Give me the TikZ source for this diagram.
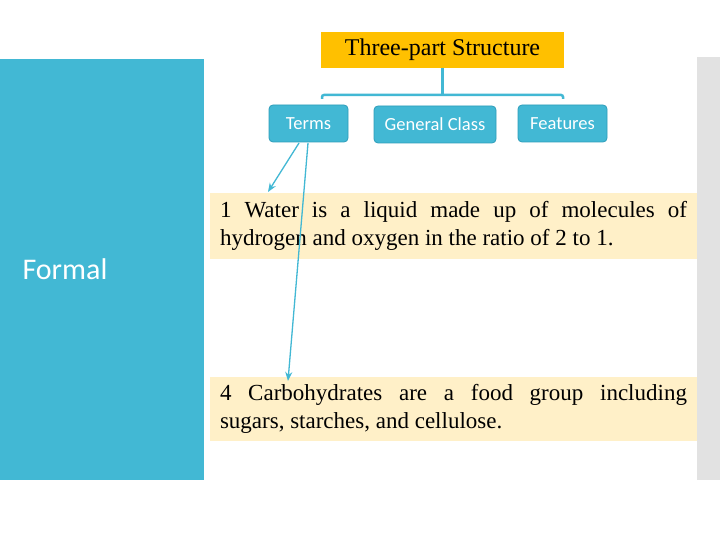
\documentclass[tikz,border=0pt]{standalone}
\usepackage{fontspec}
\setmainfont{Liberation Serif}
\newfontfamily\calib{Carlito}
\usetikzlibrary{arrows.meta}
\definecolor{teal1}{HTML}{42B8D4}
\definecolor{tealdk}{HTML}{2E9DBA}
\definecolor{gold}{HTML}{FFC000}
\definecolor{beige}{HTML}{FFF0C8}
\definecolor{grayst}{HTML}{E2E2E2}
\tikzset{
  catbox/.style={draw=tealdk, line width=0.8pt, fill=teal1, rounded corners=4pt, text=white, font=\calib\fontsize{18.5}{22}\selectfont, inner sep=0pt},
  textbox/.style={fill=beige, inner sep=0pt, minimum width=487pt, align=justify, font=\fontsize{23}{28}\selectfont},
  conn/.style={draw=teal1, line width=2.5pt},
  arr/.style={draw=teal1, line width=1.3pt, -{Stealth[length=9pt,width=7pt]}}
}
\begin{document}
\begin{tikzpicture}[x=1pt,y=-1pt]
\useasboundingbox (0,0) rectangle (720,540);
\fill[white] (0,0) rectangle (720,540);
% side panels
\fill[teal1] (0,59) rectangle (204,480);
\fill[grayst] (697,57) rectangle (720,480);
\node[text=white, font=\calib\fontsize{30}{34}\selectfont, anchor=west] (formal) at (19,269) {Formal};
% title
\node[fill=gold, minimum width=243pt, minimum height=36pt, inner sep=0pt, font=\fontsize{24}{28}\selectfont] (title) at (442.5,50) {Three-part Structure};
% category boxes
\node[catbox, minimum width=79pt, minimum height=37pt] (terms) at (308.5,123.5) {Terms};
\node[catbox, minimum width=122pt, minimum height=37pt] (gen) at (435,124.5) {General Class};
\node[catbox, minimum width=89pt, minimum height=37pt] (feat) at (562.5,123.5) {Features};
% bracket
\coordinate (bl) at (322,99);
\coordinate (br) at (563,99);
\draw[conn] (title.south) -- ++(0,27);
\draw[conn, rounded corners=2pt] (bl) -- ++(0,-4) -- ++(241,0) -- (br);
% text boxes
\node[textbox, text width=467pt, minimum height=66pt] (t1) at (453.5,226) {1 Water is a liquid made up of molecules of\linebreak hydrogen and oxygen in the ratio of 2 to 1.};
\node[textbox, text width=467pt, minimum height=64pt] (t4) at (453.5,409) {4 Carbohydrates are a food group including\linebreak sugars, starches, and cellulose.};
% arrows
\coordinate (a1s) at (299,143);
\coordinate (a1e) at (268,192);
\coordinate (a2s) at (308,143);
\coordinate (a2e) at (288,381);
\draw[arr] (a1s) -- (a1e);
\draw[arr] (a2s) -- (a2e);
\end{tikzpicture}
\end{document}
